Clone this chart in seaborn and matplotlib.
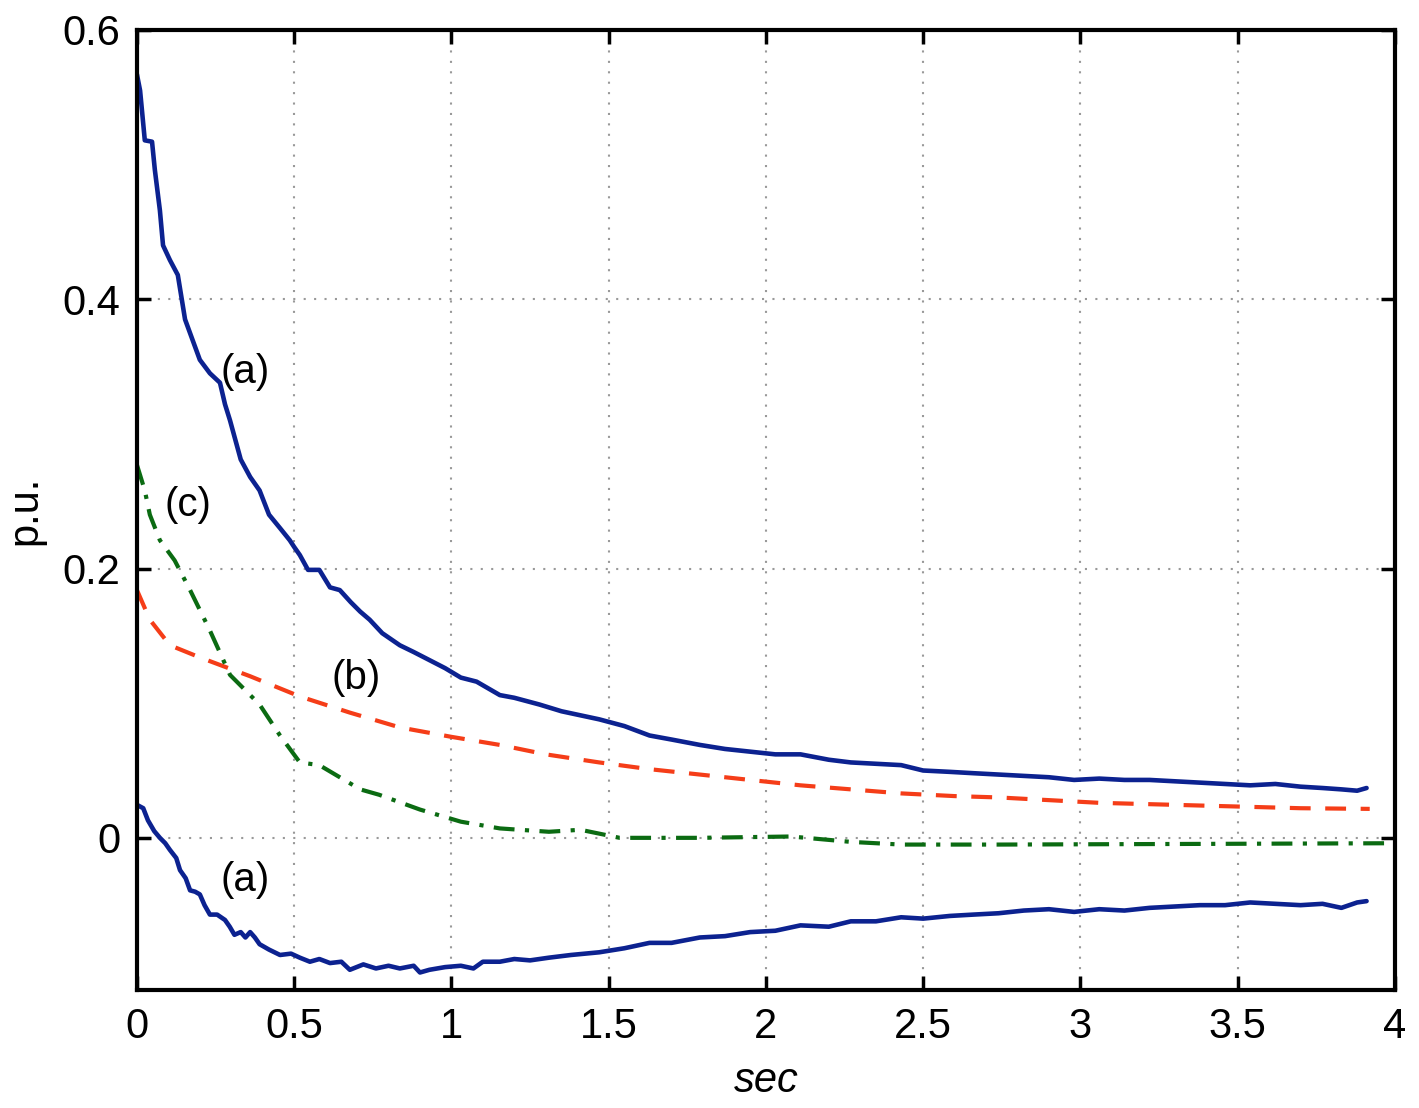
"""Response traces (a), (b), (c) in p.u. over time"""
import matplotlib
matplotlib.use("Agg")
import matplotlib.pyplot as plt
import pandas as pd
import seaborn as sns

# curve (a), upper branch
t_a_up = [0.0, 0.01, 0.025, 0.048, 0.057, 0.073, 0.083, 0.105, 0.13, 0.153, 0.2,
          0.232, 0.264, 0.28, 0.296, 0.33, 0.36, 0.39, 0.42, 0.455, 0.486, 0.5,
          0.518, 0.544, 0.58, 0.614, 0.645, 0.68, 0.71, 0.74, 0.78, 0.836, 0.88,
          0.93, 0.98, 1.03, 1.08, 1.154, 1.2, 1.28, 1.35, 1.47, 1.55, 1.63, 1.7,
          1.79, 1.87, 1.95, 2.03, 2.11, 2.2, 2.27, 2.35, 2.43, 2.5, 2.585, 2.66,
          2.74, 2.82, 2.9, 2.98, 3.06, 3.14, 3.22, 3.3, 3.38, 3.46, 3.54, 3.62,
          3.70, 3.77, 3.83, 3.88, 3.91]
v_a_up = [0.567, 0.555, 0.518, 0.517, 0.496, 0.466, 0.440, 0.429, 0.418, 0.385,
          0.355, 0.345, 0.338, 0.322, 0.310, 0.281, 0.268, 0.258, 0.240, 0.230,
          0.221, 0.216, 0.210, 0.199, 0.199, 0.186, 0.184, 0.175, 0.168, 0.162,
          0.152, 0.143, 0.138, 0.132, 0.126, 0.119, 0.116, 0.106, 0.104, 0.099,
          0.094, 0.088, 0.083, 0.076, 0.073, 0.069, 0.066, 0.064, 0.062, 0.062,
          0.058, 0.056, 0.055, 0.054, 0.050, 0.049, 0.048, 0.047, 0.046, 0.045,
          0.043, 0.044, 0.043, 0.043, 0.042, 0.041, 0.040, 0.039, 0.040, 0.038,
          0.037, 0.036, 0.035, 0.037]

# curve (a), lower branch
t_a_lo = [0.0, 0.02, 0.035, 0.055, 0.073, 0.09, 0.105, 0.125, 0.137, 0.155,
          0.169, 0.185, 0.2, 0.215, 0.232, 0.255, 0.28, 0.295, 0.31, 0.33, 0.345,
          0.36, 0.375, 0.39, 0.42, 0.455, 0.49, 0.518, 0.55, 0.58, 0.614, 0.65,
          0.677, 0.72, 0.76, 0.80, 0.836, 0.88, 0.9, 0.93, 0.98, 1.03, 1.07, 1.1,
          1.154, 1.2, 1.25, 1.31, 1.38, 1.47, 1.55, 1.63, 1.7, 1.79, 1.87, 1.95,
          2.03, 2.11, 2.2, 2.27, 2.35, 2.43, 2.5, 2.585, 2.66, 2.74, 2.82, 2.9,
          2.98, 3.06, 3.14, 3.22, 3.3, 3.38, 3.46, 3.54, 3.62, 3.70, 3.77, 3.83,
          3.88, 3.91]
v_a_lo = [0.0245, 0.022, 0.013, 0.005, 0.0, -0.004, -0.009, -0.015, -0.024,
          -0.030, -0.039, -0.040, -0.042, -0.050, -0.057, -0.057, -0.061, -0.066,
          -0.072, -0.070, -0.074, -0.070, -0.074, -0.079, -0.083, -0.087, -0.086,
          -0.089, -0.092, -0.090, -0.093, -0.092, -0.098, -0.094, -0.097, -0.095,
          -0.097, -0.095, -0.100, -0.098, -0.096, -0.095, -0.097, -0.092, -0.092,
          -0.090, -0.091, -0.089, -0.087, -0.085, -0.082, -0.078, -0.078, -0.074,
          -0.073, -0.070, -0.069, -0.065, -0.066, -0.062, -0.062, -0.059, -0.060,
          -0.058, -0.057, -0.056, -0.054, -0.053, -0.055, -0.053, -0.054, -0.052,
          -0.051, -0.050, -0.050, -0.048, -0.049, -0.050, -0.049, -0.052, -0.048,
          -0.047]

# curve (b)
t_b = [0.0, 0.041, 0.105, 0.2, 0.36, 0.518, 0.677, 0.836, 1.0, 1.154, 1.3, 1.47,
       1.63, 1.79, 1.95, 2.11, 2.27, 2.43, 2.6, 2.74, 2.9, 3.06, 3.22, 3.38, 3.54,
       3.70, 3.92]
v_b = [0.184, 0.162, 0.143, 0.134, 0.120, 0.105, 0.093, 0.082, 0.075, 0.069,
       0.062, 0.056, 0.051, 0.047, 0.043, 0.039, 0.036, 0.033, 0.031, 0.030,
       0.028, 0.026, 0.025, 0.024, 0.023, 0.022, 0.0215]

# curve (c)
t_c = [0.0, 0.025, 0.041, 0.073, 0.12, 0.169, 0.232, 0.296, 0.39, 0.455, 0.518,
       0.58, 0.645, 0.71, 0.77, 0.9, 1.03, 1.154, 1.31, 1.41, 1.535, 1.79, 2.08,
       2.27, 2.43, 2.74, 3.38, 4.0]
v_c = [0.277, 0.258, 0.240, 0.221, 0.206, 0.184, 0.154, 0.121, 0.099, 0.076,
       0.056, 0.054, 0.045, 0.036, 0.032, 0.021, 0.012, 0.007, 0.0045, 0.006,
       0.0, 0.0, 0.001, -0.003, -0.005, -0.005, -0.0045, -0.004]

x_ticks = [0, 0.5, 1, 1.5, 2, 2.5, 3, 3.5, 4]
x_tick_labels = ["0", "0.5", "1", "1.5", "2", "2.5", "3", "3.5", "4"]
y_ticks = [0, 0.2, 0.4, 0.6]
y_tick_labels = ["0", "0.2", "0.4", "0.6"]

labels = ["(a)", "(c)", "(b)", "(a)"]
label_x = [0.344, 0.162, 0.696, 0.344]
label_y = [0.346, 0.247, 0.119, -0.031]

BLUE = "#0c2290"
RED = "#f53d18"
GREEN = "#0b6b12"

sns.set_style("ticks")
plt.rcParams["font.family"] = ["Liberation Sans", "DejaVu Sans"]
plt.rcParams["text.color"] = "black"
plt.rcParams["axes.labelcolor"] = "black"
plt.rcParams["xtick.color"] = "black"
plt.rcParams["ytick.color"] = "black"

fig = plt.figure(figsize=(14.19, 11.08), dpi=100)
ax = fig.add_axes([0.0965, 0.1065, 0.8865, 0.8665])

df_up = pd.DataFrame({"t": t_a_up, "v": v_a_up})
df_lo = pd.DataFrame({"t": t_a_lo, "v": v_a_lo})
df_b = pd.DataFrame({"t": t_b, "v": v_b})
df_c = pd.DataFrame({"t": t_c, "v": v_c})

sns.lineplot(data=df_up, x="t", y="v", ax=ax, color=BLUE, lw=3.3, sort=False)
sns.lineplot(data=df_lo, x="t", y="v", ax=ax, color=BLUE, lw=3.3, sort=False)
sns.lineplot(data=df_b, x="t", y="v", ax=ax, color=RED, lw=3.0, sort=False,
             linestyle=(0, (5, 3.5)))
sns.lineplot(data=df_c, x="t", y="v", ax=ax, color=GREEN, lw=3.0, sort=False,
             linestyle=(0, (5, 2.5, 1, 2.5)))

for lab, lx, ly in zip(labels, label_x, label_y):
    ax.text(lx, ly, lab, fontsize=29, ha="center", va="center")

ax.set_xlim(0, 4)
ax.set_ylim(-0.113, 0.6)
ax.set_xticks(x_ticks)
ax.set_xticklabels(x_tick_labels)
ax.set_yticks(y_ticks)
ax.set_yticklabels(y_tick_labels)
ax.grid(True, linestyle=(0, (1, 4)), color="#999999", lw=1.5)
ax.tick_params(direction="in", length=10, width=2.5, labelsize=30,
               top=True, right=True, pad=12)
for sp in ax.spines.values():
    sp.set_linewidth(3)
    sp.set_color("black")

ax.set_xlabel("sec", fontsize=30, style="italic", labelpad=10)
ax.set_ylabel("p.u.", fontsize=30, labelpad=12)

fig.savefig("out.png", dpi=100)
